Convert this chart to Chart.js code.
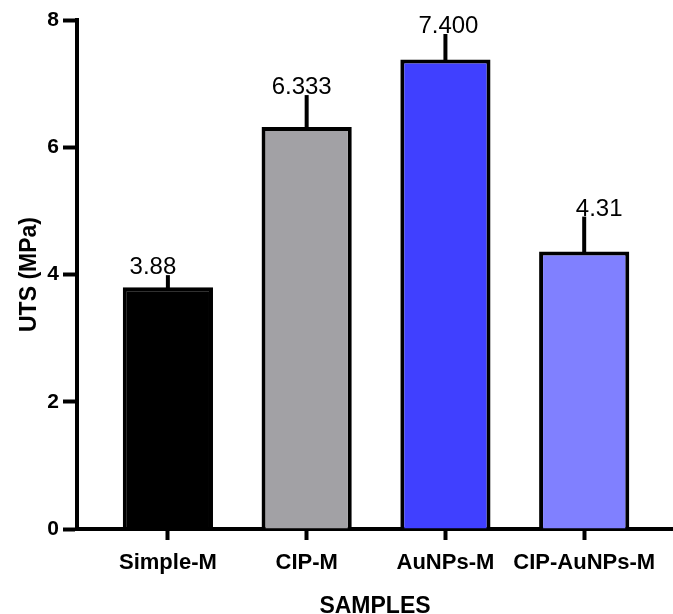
<!DOCTYPE html>
<html>
<head>
<meta charset="utf-8">
<script src="https://cdn.jsdelivr.net/npm/chart.js@4/dist/chart.umd.min.js"></script>
<style>
  html,body{margin:0;padding:0;background:#fff}
  #wrap{width:673px;height:614px;position:relative}
</style>
</head>
<body>
<div id="wrap"><canvas id="c"></canvas></div>
<script>
// data
const categories = ['Simple-M', 'CIP-M', 'AuNPs-M', 'CIP-AuNPs-M'];
const utsValues = [3.80, 6.32, 7.38, 4.36];
const utsErrors = [0.19, 0.50, 0.40, 0.55];
const valueLabels = ['3.88', '6.333', '7.400', '4.31'];
const barColors = ['#000000', '#a2a1a5', '#4040ff', '#8080ff'];
const yTicks = [0, 2, 4, 6, 8];

const FONT = "'Liberation Sans', Arial, Helvetica, sans-serif";

// draws the upward error bars and the number above each one
const errorBarPlugin = {
  id: 'errorBars',
  afterDatasetsDraw(chart, args, opts){
    const {ctx, scales:{x, y}} = chart;
    ctx.save();
    ctx.strokeStyle = '#000';
    ctx.lineWidth = 4;
    ctx.lineCap = 'butt';
    categories.forEach((c, i)=>{
      const px = x.getPixelForValue(i);
      const y0 = y.getPixelForValue(utsValues[i]) + 3;
      const y1 = y.getPixelForValue(utsValues[i] + utsErrors[i]);
      ctx.beginPath();
      ctx.moveTo(px, y0);
      ctx.lineTo(px, y1);
      ctx.stroke();
      ctx.fillStyle = '#000';
      ctx.font = `24px ${FONT}`;
      ctx.textAlign = 'center';
      ctx.textBaseline = 'alphabetic';
      const dx = (opts.nudge && opts.nudge[i]) || 0;
      ctx.fillText(valueLabels[i], px + dx, y1 - 1);
    });
    ctx.restore();
  }
};

new Chart(document.getElementById('c'), {
  type: 'bar',
  data: {
    datasets: [{
      data: categories.map((c, i)=>({x: i, y: utsValues[i]})),
      backgroundColor: barColors,
      borderColor: '#000',
      borderWidth: 4,
      borderSkipped: 'start',
      barPercentage: 0.65,
      categoryPercentage: 1
    }]
  },
  options: {
    responsive: true,
    maintainAspectRatio: false,
    animation: false,
    layout: {padding: {top: 20, right: 0, left: 0, bottom: 0}},
    plugins: {
      legend: {display: false},
      tooltip: {enabled: false},
      errorBars: {nudge: [-15, -5, 3, 15]}
    },
    scales: {
      x: {
        type: 'linear',
        offset: false,
        min: -0.655,
        max: 3.64,
        afterBuildTicks: s => { s.ticks = categories.map((c, i)=>({value: i})); },
        afterFit: s => { s.height = 85; },
        ticks: {
          callback: v => categories[v],
          autoSkip: false,
          maxRotation: 0,
          color: '#000',
          padding: 10,
          font: {family: FONT, size: 22, weight: 'bold'}
        },
        grid: {offset: false, drawOnChartArea: false, drawTicks: true, tickLength: 11, tickWidth: 4, color: '#000'},
        border: {color: '#000', width: 4},
        title: {
          display: true,
          text: 'SAMPLES',
          color: '#000',
          padding: {top: 0, bottom: 0},
          font: {family: FONT, size: 23, weight: 'bold', lineHeight: 0.6}
        }
      },
      y: {
        min: 0,
        max: 8,
        afterBuildTicks: s => { s.ticks = yTicks.map(v=>({value: v})); },
        afterFit: s => { s.width = 77; },
        ticks: {
          color: '#000',
          padding: 4,
          font: {family: FONT, size: 21, weight: 'bold'}
        },
        grid: {drawOnChartArea: false, drawTicks: true, tickLength: 14, tickWidth: 4, color: '#000'},
        border: {color: '#000', width: 4},
        title: {
          display: true,
          text: 'UTS (MPa)',
          color: '#000',
          padding: {top: 16, bottom: 0},
          font: {family: FONT, size: 23, weight: 'bold'}
        }
      }
    }
  },
  plugins: [errorBarPlugin]
});
</script>
</body>
</html>
